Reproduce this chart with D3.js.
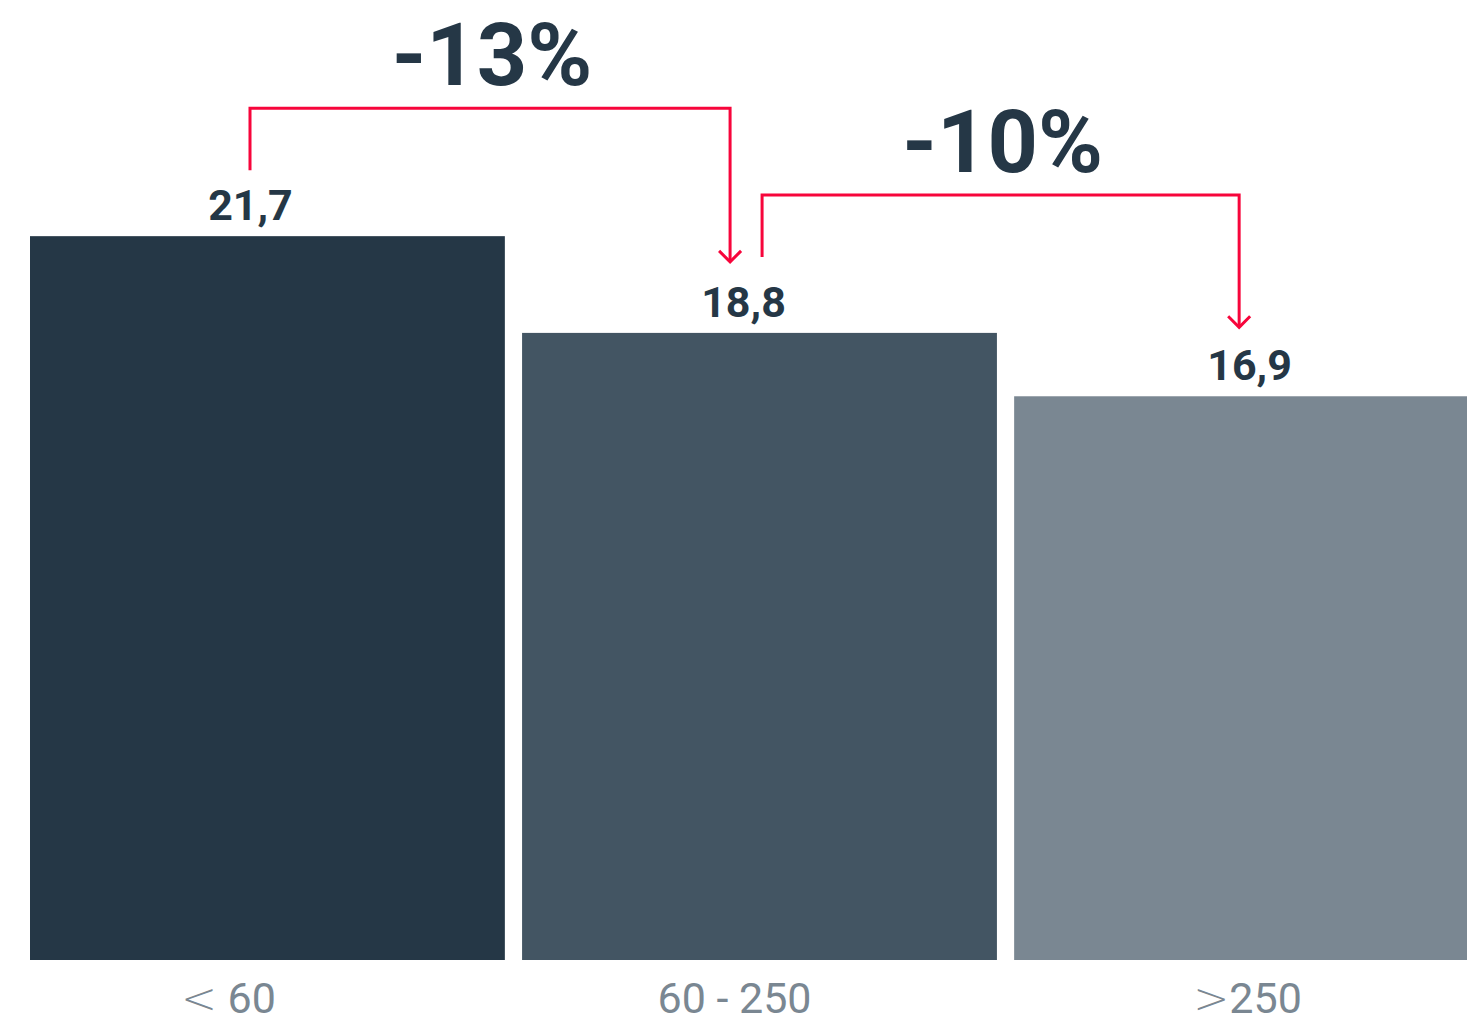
<!DOCTYPE html>
<html>
<head>
<meta charset="utf-8">
<script src="https://cdn.jsdelivr.net/npm/d3@7"></script>
<style>
  html, body { margin: 0; padding: 0; background: #ffffff; overflow: hidden; }
  svg { display: block; font-family: Roboto, "Noto Sans", sans-serif; }
</style>
</head>
<body>
<svg id="chart" width="1467" height="1019"></svg>
<script>
// Size classes and their values
const categories = ["< 60", "60 - 250", ">250"];
const values = [21.7, 18.8, 16.9];
const valueLabels = ["21,7", "18,8", "16,9"];
const barColors = ["#253746", "#435563", "#7a8792"];
// Change between neighbouring classes
const changes = [
  { from: 0, to: 1, label: "-13%" },
  { from: 1, to: 2, label: "-10%" }
];

const RED = "#f7053b";
const DARK = "#253746";
const GREY = "#7a8792";

const svg = d3.select("#chart");

const x = d3.scaleBand()
  .domain(categories)
  .range([30, 1489])
  .paddingInner(0.035)
  .paddingOuter(0);

const y = d3.scaleLinear()
  .domain([0, 28.78])
  .range([960, 0]);

const data = categories.map((c, i) => ({ cat: c, value: values[i], label: valueLabels[i], color: barColors[i] }));

// Bars
svg.append("g").selectAll("rect")
  .data(data)
  .join("rect")
  .attr("x", d => x(d.cat))
  .attr("y", d => y(d.value))
  .attr("width", x.bandwidth())
  .attr("height", d => y(0) - y(d.value))
  .attr("fill", d => d.color);

// Value labels above bars
const valueShift = [-17, -16, -2];
svg.append("g").selectAll("text")
  .data(data)
  .join("text")
  .attr("x", (d, i) => x(d.cat) + x.bandwidth() / 2 + valueShift[i])
  .attr("y", d => y(d.value) - 16)
  .attr("text-anchor", "middle")
  .attr("font-size", 43)
  .attr("font-weight", 700)
  .attr("fill", DARK)
  .text(d => d.label);

// Category axis; comparison signs are set in a wider face
const axisShift = [-39, -25, -4];
const axis = svg.append("g")
  .attr("transform", `translate(0,${y(0)})`)
  .call(d3.axisBottom(x).tickSize(0).tickPadding(0));
axis.select(".domain").remove();
axis.selectAll(".tick text")
  .attr("dx", (d, i) => axisShift[i])
  .attr("dy", 0)
  .attr("y", 53)
  .attr("font-family", "Roboto, sans-serif")
  .attr("font-size", 43)
  .attr("fill", GREY)
  .each(function(d) {
    const t = d3.select(this);
    t.text(null);
    const m = d.match(/^([<>])(.*)$/);
    if (m) {
      t.append("tspan")
        .attr("font-family", "DejaVu Sans, sans-serif")
        .attr("font-weight", 200)
        .text(m[1]);
      t.append("tspan").text(m[2]);
    } else {
      t.append("tspan").text(d);
    }
  });

// Change brackets with arrows
const bracketStart = [220, 240];
const bracketEnd = [208, 225];
const bracketRise = [128, 138];
const startGap = [66, 76];
const tipGap = [71, 69];

const gB = svg.append("g");
changes.forEach((c, k) => {
  const x0 = x(categories[c.from]) + bracketStart[k];
  const x1 = x(categories[c.to]) + bracketEnd[k];
  const yFrom = y(values[c.from]);
  const yTop = yFrom - bracketRise[k];
  const yStart = yFrom - startGap[k];
  const yTip = y(values[c.to]) - tipGap[k];

  gB.append("path")
    .attr("d", `M${x0},${yStart} V${yTop} H${x1} V${yTip - 1}`)
    .attr("fill", "none")
    .attr("stroke", RED)
    .attr("stroke-width", 3);

  gB.append("path")
    .attr("d", `M${x1 - 11},${yTip - 11} L${x1},${yTip} L${x1 + 11},${yTip - 11}`)
    .attr("fill", "none")
    .attr("stroke", RED)
    .attr("stroke-width", 3);

  gB.append("text")
    .attr("x", (x0 + x1) / 2 + 2)
    .attr("y", yTop - 23)
    .attr("text-anchor", "middle")
    .attr("font-size", 88)
    .attr("font-weight", 700)
    .attr("fill", DARK)
    .text(c.label);
});
</script>
</body>
</html>
